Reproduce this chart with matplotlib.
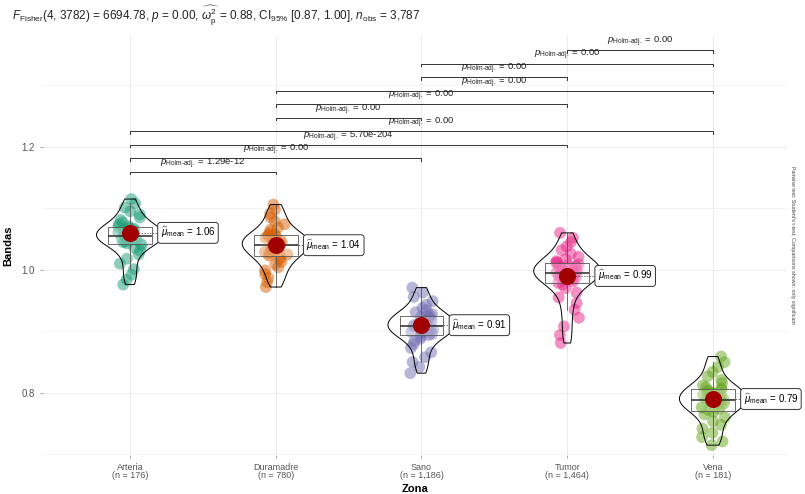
import numpy as np
import matplotlib
matplotlib.use("Agg")
import matplotlib.pyplot as plt
import seaborn as sns

plt.rcParams["font.family"] = ["Liberation Sans", "DejaVu Sans"]
plt.rcParams["mathtext.fontset"] = "custom"
plt.rcParams["mathtext.rm"] = "Liberation Sans"
plt.rcParams["mathtext.it"] = "Liberation Sans:italic"
plt.rcParams["mathtext.bf"] = "Liberation Sans:bold"

# groups and sample sizes
zonas = ["Arteria", "Duramadre", "Sano", "Tumor", "Vena"]
n_obs = ["176", "780", "1,186", "1,464", "181"]
colores = ["#1B9E77", "#D95F02", "#7570B3", "#E7298A", "#66A61E"]

# band values per zone
arteria = [1.115, 1.108, 1.101, 1.095, 1.090, 1.085, 1.081, 1.077, 1.074, 1.071,
           1.070, 1.068, 1.067, 1.065, 1.064, 1.062, 1.061, 1.059, 1.058, 1.056,
           1.055, 1.054, 1.052, 1.051, 1.049, 1.048, 1.046, 1.045, 1.043, 1.042,
           1.040, 1.036, 1.031, 1.025, 1.018, 1.010, 1.001, 0.992, 0.984, 0.976]
duramadre = [1.106, 1.098, 1.091, 1.085, 1.079, 1.074, 1.069, 1.065, 1.061, 1.058,
             1.057, 1.055, 1.054, 1.052, 1.050, 1.048, 1.047, 1.045, 1.043, 1.042,
             1.040, 1.039, 1.037, 1.035, 1.033, 1.031, 1.029, 1.027, 1.025, 1.023,
             1.021, 1.017, 1.013, 1.009, 1.004, 0.999, 0.993, 0.987, 0.980, 0.972]
sano = [0.971, 0.963, 0.956, 0.949, 0.943, 0.938, 0.934, 0.931, 0.928, 0.926,
        0.925, 0.923, 0.922, 0.920, 0.918, 0.917, 0.915, 0.913, 0.911, 0.910,
        0.908, 0.907, 0.905, 0.903, 0.902, 0.900, 0.899, 0.897, 0.896, 0.894,
        0.892, 0.888, 0.884, 0.879, 0.873, 0.866, 0.858, 0.850, 0.842, 0.832]
tumor = [1.060, 1.052, 1.045, 1.038, 1.032, 1.026, 1.021, 1.017, 1.014, 1.012,
         1.011, 1.009, 1.008, 1.006, 1.005, 1.003, 1.001, 0.999, 0.998, 0.996,
         0.995, 0.993, 0.992, 0.990, 0.988, 0.987, 0.985, 0.983, 0.981, 0.979,
         0.976, 0.970, 0.963, 0.955, 0.946, 0.935, 0.922, 0.908, 0.894, 0.881]
vena = [0.859, 0.850, 0.842, 0.834, 0.827, 0.821, 0.816, 0.812, 0.809, 0.807,
        0.806, 0.804, 0.802, 0.800, 0.799, 0.797, 0.795, 0.793, 0.791, 0.790,
        0.788, 0.786, 0.784, 0.783, 0.781, 0.779, 0.777, 0.776, 0.774, 0.772,
        0.769, 0.765, 0.760, 0.754, 0.748, 0.742, 0.735, 0.728, 0.721, 0.715]
valores = [arteria, duramadre, sano, tumor, vena]

medias = [1.06, 1.04, 0.91, 0.99, 0.79]

# pairwise comparisons, bottom to top: (group a, group b, p label)
pares = [(0, 1, "1.29e-12"), (0, 2, "0.00"), (0, 3, "5.70e-204"), (0, 4, "0.00"),
         (1, 2, "0.00"), (1, 3, "0.00"), (1, 4, "0.00"),
         (2, 3, "0.00"), (2, 4, "0.00"), (3, 4, "0.00")]
y_pares = [1.159, 1.181, 1.203, 1.225, 1.247, 1.269, 1.291, 1.313, 1.335, 1.357]

subtitulo = (r"$F_{\mathrm{Fisher}}$(4, 3782) = 6694.78, $p$ = 0.00, "
             r"$\widehat{\omega_{\mathrm{p}}^{2}}$ = 0.88, CI$_{95\%}$ [0.87, 1.00], "
             r"$n_{\mathrm{obs}}$ = 3,787")
p_holm = "$p_{\\mathrm{Holm\u2010adj.}}$ = "

fig = plt.figure(figsize=(8.05, 4.94), dpi=100)
ax = fig.add_axes([43 / 805, 1 - 455 / 494, (787 - 43) / 805, (455 - 36) / 494])
pos = np.arange(len(zonas))

# jittered points
np.random.seed(3)
xs = [z for z, v in zip(zonas, valores) for _ in v]
ys = [y for v in valores for y in v]
sns.stripplot(x=xs, y=ys, hue=xs, palette=colores, jitter=0.085, size=8.5,
              alpha=0.5, linewidth=0, ax=ax, legend=False, zorder=1)

# boxplots
bp = ax.boxplot(valores, positions=pos, widths=0.3, patch_artist=True,
                showfliers=False, showcaps=False, whis=1.5,
                medianprops=dict(color="#3a3a3a", lw=1.2),
                whiskerprops=dict(color="#555555", lw=0.6),
                boxprops=dict(edgecolor="#555555", lw=0.6), zorder=2)
for b in bp["boxes"]:
    b.set_facecolor((1, 1, 1, 0.3))

# violins
vp = ax.violinplot(valores, positions=pos, widths=0.46, showextrema=False,
                   bw_method=0.4)
for body in vp["bodies"]:
    body.set_facecolor("none")
    body.set_edgecolor("black")
    body.set_linewidth(0.7)
    body.set_alpha(1)
    body.set_zorder(3)

# means
ax.scatter(pos, medias, s=150, color="#A00000", zorder=5, linewidths=0)
for i, m in enumerate(medias):
    ax.plot([i, i + 0.2], [m, m], ls=(0, (2, 2)), color="#333333", lw=0.5, zorder=4)
    ax.text(i + 0.21, m, r"$\widehat{\mu}_{\mathrm{mean}}$ = " + f"{m:.2f}",
            fontsize=7, va="center", ha="left", zorder=6,
            bbox=dict(boxstyle="round,pad=0.3,rounding_size=0.3", fc="white",
                      ec="#333333", lw=0.7))

# significance brackets
for (a, b, lab), yb in zip(pares, y_pares):
    ax.plot([a, a, b, b], [yb - 0.004, yb, yb, yb - 0.004], color="#333333",
            lw=0.7, clip_on=False)
    ax.text((a + b) / 2, yb + 0.002, p_holm + lab,
            fontsize=6.8, ha="center", va="bottom", color="#222222")

ax.set_xlim(-0.597, 4.508)
ax.set_ylim(0.699, 1.38)
ax.set_xticks(pos)
ax.set_xticklabels([f"{z}\n(n = {n})" for z, n in zip(zonas, n_obs)],
                   fontsize=6.5, color="#555555", linespacing=0.95)
ax.set_yticks([0.8, 1.0, 1.2])
ax.set_yticklabels(["0.8", "1.0", "1.2"], fontsize=7, color="#555555")
ax.set_yticks([0.7, 0.9, 1.1, 1.3], minor=True)
ax.tick_params(axis="both", length=2.5, color="#999999", width=0.6)
ax.tick_params(axis="x", pad=3)
ax.tick_params(axis="y", which="minor", length=0)
ax.grid(True, which="major", color="#EBEBEB", lw=0.7)
ax.grid(True, which="minor", axis="y", color="#F3F3F3", lw=0.6)
ax.set_axisbelow(True)
for s in ax.spines.values():
    s.set_visible(False)

ax.set_xlabel("Zona", fontsize=8, fontweight="bold", va="center")
ax.xaxis.set_label_coords(0.5, -0.081)
ax.set_ylabel("Bandas", fontsize=8, fontweight="bold", labelpad=6)

fig.text(12 / 805, 1 - 16 / 494, subtitulo, fontsize=8.5, ha="left", va="center",
         color="#222222")
fig.text(792 / 805, 1 - 245 / 494,
         "Pairwise test: Student's t-test; Comparisons shown: only significant",
         rotation=270, fontsize=3.8, ha="center", va="center", color="#444444")

fig.savefig("out.png", dpi=100)
